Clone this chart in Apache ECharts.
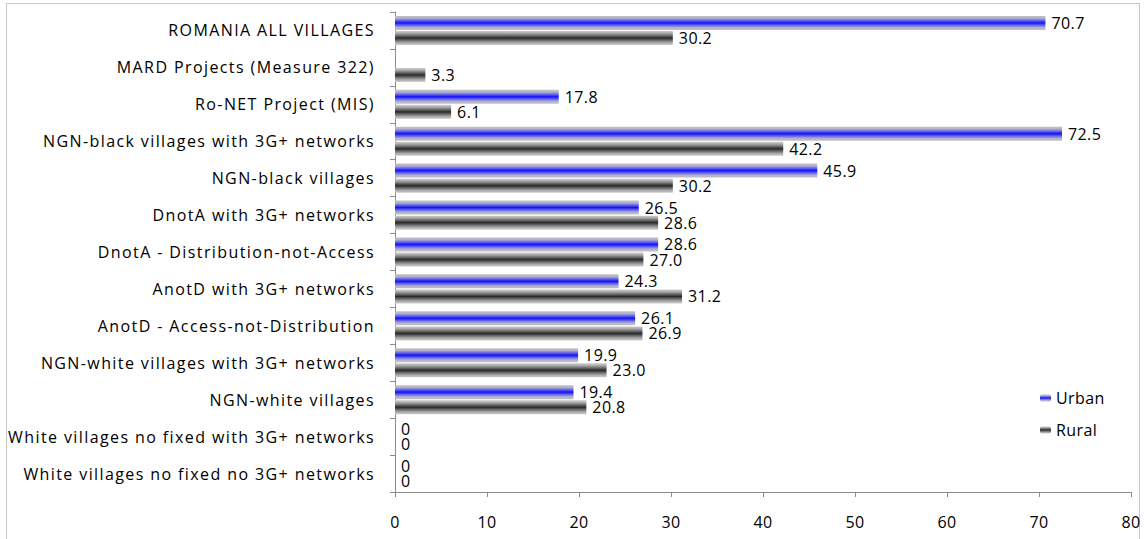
<!DOCTYPE html>
<html>
<head>
<meta charset="utf-8">
<script src="https://cdn.jsdelivr.net/npm/echarts@6/dist/echarts.min.js"></script>
<style>
  html, body { margin: 0; padding: 0; background: #fff; }
  #frame { position: absolute; left: 6px; top: 3px; width: 1134px; height: 540px; border: 1px solid #c8c8c8; box-sizing: border-box; }
  #chart { position: absolute; left: 0; top: 0; width: 1144px; height: 539px; }
  /* looser tracking on the text drawn by the SVG renderer */
  #chart text { letter-spacing: 0.4px; }
  #chart text[text-anchor="end"] { letter-spacing: 1.4px; }
</style>
</head>
<body>
<div id="frame"></div>
<div id="chart"></div>
<script>
// Categories listed top to bottom
const categories = [
  'ROMANIA ALL VILLAGES',
  'MARD Projects (Measure 322)',
  'Ro-NET Project (MIS)',
  'NGN-black villages with 3G+ networks',
  'NGN-black villages',
  'DnotA with 3G+ networks',
  'DnotA - Distribution-not-Access',
  'AnotD with 3G+ networks',
  'AnotD - Access-not-Distribution',
  'NGN-white villages with 3G+ networks',
  'NGN-white villages',
  'White villages no fixed with 3G+ networks',
  'White villages no fixed no 3G+ networks'
];
const urban = [70.7, null, 17.8, 72.5, 45.9, 26.5, 28.6, 24.3, 26.1, 19.9, 19.4, 0, 0];
const rural = [30.2, 3.3, 6.1, 42.2, 30.2, 28.6, 27.0, 31.2, 26.9, 23.0, 20.8, 0, 0];
const xTicks = { min: 0, max: 80, interval: 10 };

const font = 'Open Sans, Liberation Sans, sans-serif';

function barGradient(stops) {
  return new echarts.graphic.LinearGradient(0, 0, 0, 1,
    stops.map((c, i) => ({ offset: i / (stops.length - 1), color: c })));
}
const urbanFill = barGradient(['#c2c2c6', '#b0b0cc', '#6464e6', '#1212ff', '#6464e6', '#b0b0cc', '#c2c2c6']);
const ruralFill = barGradient(['#cecece', '#a8a8a8', '#6a6a6a', '#2a2a2a', '#6a6a6a', '#a8a8a8', '#cecece']);

function fmt(v) {
  if (v === 0) return '0';
  return v.toFixed(1);
}

const valueLabel = {
  show: true, position: 'right', distance: 6, color: '#000', fontSize: 16, lineHeight: 13,
  fontFamily: font, formatter: p => fmt(p.value)
};

const chart = echarts.init(document.getElementById('chart'), null, { renderer: 'svg' });
chart.setOption({
  animation: false,
  textStyle: { fontFamily: font },
  grid: { left: 395, right: 13, top: 12, bottom: 47, containLabel: false },
  legend: {
    orient: 'vertical',
    left: 1035,
    top: 385,
    itemWidth: 11,
    itemHeight: 7,
    itemGap: 16,
    textStyle: { fontFamily: font, fontSize: 16, color: '#000' },
    data: ['Urban', 'Rural']
  },
  xAxis: {
    type: 'value',
    min: xTicks.min,
    max: xTicks.max,
    interval: xTicks.interval,
    splitLine: { show: false },
    axisLine: { show: true, lineStyle: { color: '#8c8c8c', width: 1 } },
    axisTick: { show: true, length: 5, lineStyle: { color: '#8c8c8c' } },
    axisLabel: { color: '#000', fontSize: 16, margin: 22, fontFamily: font }
  },
  yAxis: {
    type: 'category',
    inverse: true,
    data: categories,
    axisLine: { show: true, lineStyle: { color: '#8c8c8c', width: 1 } },
    axisTick: { show: true, length: 5, lineStyle: { color: '#8c8c8c' } },
    axisLabel: { color: '#000', fontSize: 16, margin: 20, fontFamily: font }
  },
  series: [
    {
      name: 'Urban', type: 'bar', data: urban,
      barWidth: 14, barGap: '8%',
      itemStyle: { color: urbanFill },
      label: valueLabel
    },
    {
      name: 'Rural', type: 'bar', data: rural,
      barWidth: 14,
      itemStyle: { color: ruralFill },
      label: valueLabel
    }
  ]
});
</script>
</body>
</html>
